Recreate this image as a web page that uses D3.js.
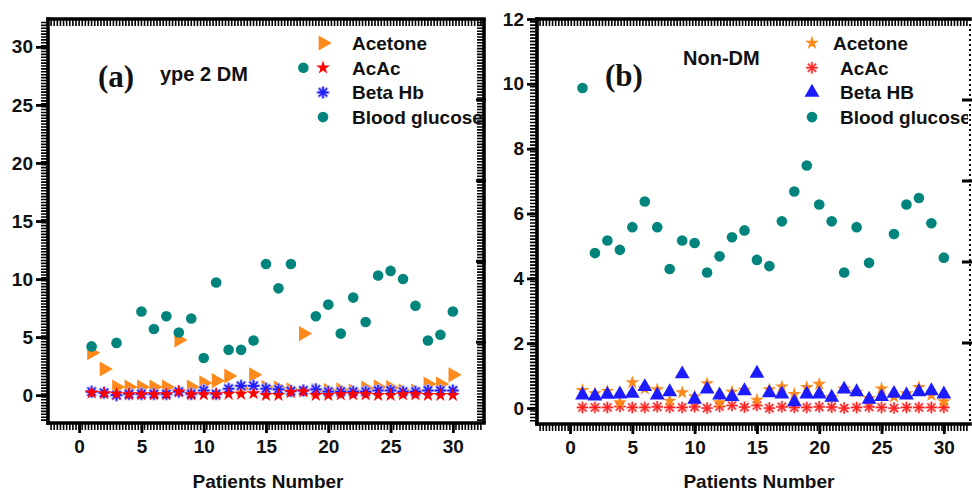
<!DOCTYPE html>
<html>
<head>
<meta charset="utf-8">
<script src="https://cdn.jsdelivr.net/npm/d3@7"></script>
<style>
  body { margin: 0; background: #fff; }
  text { font-family: "Liberation Sans", Arial, sans-serif; font-weight: bold; fill: #111; }
</style>
</head>
<body>
<div id="chart"></div>
<script>
// patient numbers (x categories)
var patients = [1,2,3,4,5,6,7,8,9,10,11,12,13,14,15,16,17,18,19,20,21,22,23,24,25,26,27,28,29,30];
var xTicks = [0,5,10,15,20,25,30];

// (a) Type 2 DM
var acetoneA = [3.65,2.25,0.7,0.7,0.7,0.7,0.7,4.75,0.7,1.05,1.25,1.65,0.55,1.75,0.65,0.6,0.45,5.3,0.4,0.4,0.45,0.35,0.6,0.7,0.65,0.35,0.35,0.95,0.95,1.75];
var acacA = [0.2,0.15,0.1,0.05,0.05,0.05,0.05,0.3,0.05,0.05,0.05,0.1,0.1,0.15,0.0,0.0,0.25,0.3,0.0,0.0,0.05,0.05,0.05,0.0,0.0,0.05,0.05,0.0,0.0,0.0];
var betaA = [0.3,0.2,0.0,0.1,0.1,0.1,0.1,0.3,0.1,0.4,0.1,0.55,0.8,0.8,0.55,0.5,0.35,0.4,0.5,0.3,0.3,0.3,0.3,0.4,0.4,0.3,0.3,0.4,0.4,0.4];
var glucoseA = [4.2,null,4.5,null,7.2,5.7,6.8,5.4,6.6,3.2,9.7,3.9,3.9,4.7,11.3,9.2,11.3,28.2,6.8,7.8,5.3,8.4,6.3,10.3,10.7,10.0,7.7,4.7,5.2,7.2];
var yTicksA = [0,5,10,15,20,25,30];

// (b) Non-DM
var acetoneB = [0.55,0.45,0.52,0.17,0.79,0.6,0.57,0.22,0.48,0.36,0.76,0.17,0.5,0.56,0.25,0.57,0.66,0.43,0.64,0.74,0.33,0.6,0.5,0.3,0.6,0.35,0.45,0.64,0.4,0.2];
var acacB = [0.02,0.02,0.02,0.05,0.02,0.02,0.04,0.02,0.02,0.04,0.0,0.05,0.08,0.03,0.08,0.0,0.04,0.02,0.02,0.04,0.03,0.0,0.02,0.04,0.02,0.0,0.02,0.02,0.02,0.02];
var betaB = [0.40,0.37,0.42,0.43,0.45,0.66,0.40,0.50,1.05,0.27,0.58,0.40,0.35,0.53,1.07,0.47,0.43,0.19,0.43,0.43,0.33,0.58,0.50,0.27,0.35,0.45,0.40,0.50,0.53,0.43];
var glucoseB = [9.87,4.78,5.17,4.88,5.58,6.37,5.58,4.29,5.17,5.09,4.18,4.68,5.27,5.48,4.57,4.38,5.76,6.68,7.48,6.28,5.76,4.18,5.58,4.48,null,5.37,6.28,6.48,5.70,4.64];
var yTicksB = [0,2,4,6,8,10,12];

var legendA = ["Acetone","AcAc","Beta Hb","Blood glucose"];
var legendB = ["Acetone","AcAc","Beta HB","Blood glucose"];

var TEAL = "#00847c", ORANGE = "#ff8a1c", RED = "#ff0000", BLUE = "#1c1cff";

var svg = d3.select("#chart").append("svg")
    .attr("width", 972).attr("height", 494);
svg.append("rect").attr("width", 972).attr("height", 494).attr("fill", "#fff");

// marker drawers
function asteriskPath(r) {
  var p = "", a;
  for (var i = 0; i < 4; i++) {
    a = i * Math.PI / 4;
    p += "M" + (-r*Math.cos(a)) + "," + (-r*Math.sin(a)) + "L" + (r*Math.cos(a)) + "," + (r*Math.sin(a));
  }
  return p;
}
var shapes = {
  triRight: function(g){ g.append("path").attr("d", d3.symbol(d3.symbolTriangle, 100)()).attr("transform", "rotate(90)").attr("fill", ORANGE); },
  triUp: function(g){ g.append("path").attr("d", d3.symbol(d3.symbolTriangle, 95)()).attr("fill", BLUE); },
  starRed: function(g){ g.append("path").attr("d", d3.symbol(d3.symbolStar, 60)()).attr("fill", RED); },
  starOrange: function(g){ g.append("path").attr("d", d3.symbol(d3.symbolStar, 60)()).attr("fill", ORANGE); },
  astBlue: function(g){
    g.append("path").attr("d", asteriskPath(6.5)).attr("stroke", "#a8a8ff").attr("stroke-width", 3);
    g.append("path").attr("d", asteriskPath(5.5)).attr("stroke", BLUE).attr("stroke-width", 1.6);
  },
  astRed: function(g){
    g.append("path").attr("d", asteriskPath(6)).attr("stroke", "#ff9a9a").attr("stroke-width", 2.4);
    g.append("path").attr("d", asteriskPath(5.5)).attr("stroke", "#ff2020").attr("stroke-width", 1.2);
  },
  circle: function(g){ g.append("circle").attr("r", 5.3).attr("fill", TEAL); }
};

function drawPanel(cfg) {
  var x = d3.scaleLinear().domain(cfg.xDomain).range([cfg.left, cfg.right]);
  var y = d3.scaleLinear().domain(cfg.yDomain).range([cfg.bottom, cfg.top]);
  var g = svg.append("g");

  // points
  cfg.series.forEach(function(s) {
    patients.forEach(function(p, i) {
      var v = s.values[i];
      if (v === null) return;
      var m = g.append("g").attr("transform", "translate(" + x(p) + "," + y(v) + ")");
      shapes[s.shape](m);
    });
  });

  // minor teeth (comb along the frame)
  var xs = d3.range(cfg.xDomain[0], cfg.xDomain[1], cfg.xMinor).map(x)
    .filter(function(px){ return px > cfg.left + 2 && px < cfg.right - 2; });
  var ys = d3.range(cfg.yDomain[0], cfg.yDomain[1], cfg.yMinor).map(y)
    .filter(function(py){ return py > cfg.top + 2 && py < cfg.bottom - 2; });
  var comb = "";
  xs.forEach(function(px) {
    comb += "M" + px + "," + cfg.bottom + "V" + (cfg.bottom + 7);
    comb += "M" + px + "," + cfg.top + "V" + (cfg.top + 7);
  });
  ys.forEach(function(py) {
    comb += "M" + cfg.left + "," + py + "H" + (cfg.left - 7);
    if (cfg.rightTeeth) comb += "M" + cfg.right + "," + py + "H" + (cfg.right - 7);
  });
  g.append("path").attr("d", comb).attr("fill", "none").attr("stroke", "#000").attr("stroke-width", 1.6);

  // right side marks
  var yr = d3.scaleLinear().domain([0, 5]).range([cfg.top, cfg.bottom]);
  [1,2,3,4].forEach(function(t) {
    g.append("line").attr("x1", cfg.right + 2).attr("x2", cfg.right - 8)
      .attr("y1", yr(t)).attr("y2", yr(t)).attr("stroke", "#000").attr("stroke-width", 3);
  });

  // frame
  var fr = g.append("g").attr("stroke", "#000").attr("stroke-width", 3.6).attr("fill", "none");
  fr.append("line").attr("x1", cfg.left).attr("x2", cfg.left).attr("y1", cfg.top - 1.8).attr("y2", cfg.bottom + 1.8);
  fr.append("line").attr("x1", cfg.left - 1.8).attr("x2", cfg.right + 1.8).attr("y1", cfg.bottom).attr("y2", cfg.bottom);
  fr.append("line").attr("x1", cfg.left - 1.8).attr("x2", cfg.right + 1.8).attr("y1", cfg.top).attr("y2", cfg.top);
  if (cfg.rightTeeth) {
    fr.append("line").attr("x1", cfg.right).attr("x2", cfg.right).attr("y1", cfg.top).attr("y2", cfg.bottom);
  } else {
    fr.append("line").attr("x1", cfg.right).attr("x2", cfg.right).attr("y1", cfg.top).attr("y2", cfg.bottom)
      .attr("stroke-width", 2).attr("stroke-dasharray", "2,3");
  }

  // axes
  var xAxis = g.append("g").attr("transform", "translate(0," + cfg.bottom + ")")
    .call(d3.axisBottom(x).tickValues(xTicks).tickSize(10).tickPadding(7));
  var yAxis = g.append("g").attr("transform", "translate(" + cfg.left + ",0)")
    .call(d3.axisLeft(y).tickValues(cfg.yTicks).tickSize(cfg.yTickSize).tickPadding(3));
  [xAxis, yAxis].forEach(function(a) {
    a.select(".domain").remove();
    a.selectAll(".tick line").attr("stroke", "#000").attr("stroke-width", 2.8);
    a.selectAll(".tick text").attr("fill", "#111").style("font-size", "19px")
      .style("font-family", "'Liberation Sans', Arial, sans-serif").style("font-weight", "bold");
  });

  // axis title
  g.append("text").attr("x", (x(0) + x(30)) / 2 + 2).attr("y", 488).attr("text-anchor", "middle")
    .style("font-size", "19px").text("Patients Number");

  // panel labels
  g.append("text").attr("x", cfg.tagX).attr("y", cfg.tagY)
    .style("font-family", "'Liberation Serif', 'DejaVu Serif', serif").style("font-size", "31px").text(cfg.tag);
  g.append("text").attr("x", cfg.titleX).attr("y", cfg.titleY).style("font-size", "20px").text(cfg.title);

  // legend
  var clipId = "clip" + cfg.tag.replace(/\W/g, "");
  svg.append("clipPath").attr("id", clipId).append("rect")
    .attr("x", cfg.left).attr("y", 0).attr("width", cfg.right - cfg.left - 2).attr("height", 494);
  var lg = g.append("g").attr("clip-path", "url(#" + clipId + ")");
  cfg.legend.forEach(function(name, i) {
    var ly = cfg.legendY + i * 24.7;
    var m = lg.append("g").attr("transform", "translate(" + cfg.legendMarkerX + "," + ly + ")");
    shapes[cfg.legendShapes[i]](m);
    lg.append("text").attr("x", cfg.legendTextX[i]).attr("y", ly + 7).style("font-size", "19px").text(name);
  });
}

drawPanel({
  left: 48, right: 484, top: 19, bottom: 423,
  xDomain: [-2.5, 32.5], yDomain: [-2.4, 32.4],
  xMinor: 0.25, yMinor: 0.25, yTicks: yTicksA, yTickSize: 12, rightTeeth: true,
  tag: "(a)", tagX: 98, tagY: 87, title: "ype 2 DM", titleX: 160, titleY: 81,
  legendMarkerX: 323, legendY: 43, legendTextX: [352, 352, 352, 352],
  legend: legendA, legendShapes: ["triRight", "starRed", "astBlue", "circle"],
  series: [
    { values: acetoneA, shape: "triRight" },
    { values: glucoseA, shape: "circle" },
    { values: betaA, shape: "astBlue" },
    { values: acacA, shape: "starRed" }
  ]
});

drawPanel({
  left: 537, right: 970, top: 19, bottom: 424,
  xDomain: [-2.65, 32.1], yDomain: [-0.49, 12.0],
  xMinor: 0.25, yMinor: 0.1, yTicks: yTicksB, yTickSize: 10, rightTeeth: false,
  tag: "(b)", tagX: 605, tagY: 86, title: "Non-DM", titleX: 683, titleY: 65,
  legendMarkerX: 812, legendY: 43, legendTextX: [833, 840, 840, 840],
  legend: legendB, legendShapes: ["starOrange", "astRed", "triUp", "circle"],
  series: [
    { values: acacB, shape: "astRed" },
    { values: acetoneB, shape: "starOrange" },
    { values: betaB, shape: "triUp" },
    { values: glucoseB, shape: "circle" }
  ]
});
</script>
</body>
</html>
